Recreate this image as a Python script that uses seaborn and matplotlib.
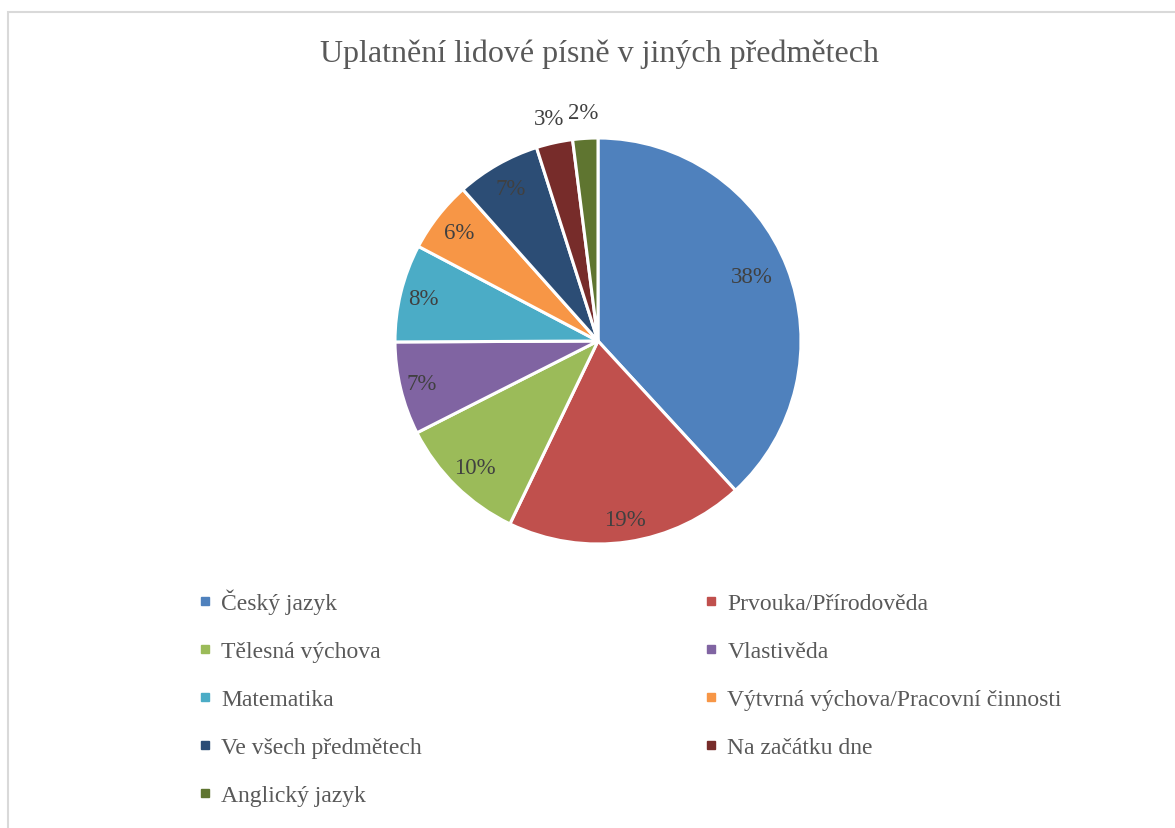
import matplotlib
matplotlib.use("Agg")
import matplotlib.pyplot as plt
from matplotlib.lines import Line2D
from matplotlib.patches import Rectangle
import numpy as np
import seaborn as sns

# data (share of answers, %)
subjects = ['Český jazyk', 'Prvouka/Přírodověda', 'Tělesná výchova', 'Vlastivěda',
            'Matematika', 'Výtvrná výchova/Pracovní činnosti', 'Ve všech předmětech',
            'Na začátku dne', 'Anglický jazyk']
shares = [38.2, 19.0, 10.4, 7.4, 7.8, 5.7, 6.7, 2.9, 2.0]
colors = ['#4F81BD', '#C0504D', '#9BBB59', '#8064A2', '#4BACC6',
          '#F79646', '#2C4D75', '#772C2A', '#5F7530']
title = 'Uplatnění lidové písně v jiných předmětech'

sns.set_theme(style='white')
plt.rcParams['font.family'] = ['Liberation Serif', 'DejaVu Serif']
text_col = '#595959'
palette = sns.color_palette(colors)

W, H = 1175, 829
fig = plt.figure(figsize=(W / 100, H / 100), dpi=100)

# chart area frame (only left/top visible in the original crop)
fig.patches.append(Rectangle((8 / W, -0.1), 1.2, (H - 13) / H + 0.1, transform=fig.transFigure,
                             fill=False, edgecolor='#D9D9D9', linewidth=1.5))

cx, cy, r = 598, 342, 203
ax = fig.add_axes([(cx - r) / W, (H - cy - r) / H, 2 * r / W, 2 * r / H])
wedges, _, autotexts = ax.pie(shares, colors=palette, startangle=90, counterclock=False,
                              autopct='%1.0f%%', pctdistance=0.87,
                              wedgeprops=dict(edgecolor='white', linewidth=2.2),
                              textprops=dict(color='#404040', fontsize=16.5))
ax.set_xlim(-1, 1)
ax.set_ylim(-1, 1)
ax.set_aspect('equal')
ax.axis('off')

# label distances / angle nudges as Excel's "best fit" placed them
label_dist = [0.82, 0.89, 0.87, 0.895, 0.885, 0.866, 0.865, 1.12, 1.13]
label_turn = [1.4, 0, 0, 0, 0, 0, 0, 0, 0]
for w, t, d, k in zip(wedges, autotexts, label_dist, label_turn):
    ang = np.deg2rad((w.theta1 + w.theta2) / 2 + k)
    t.set_position((d * np.cos(ang), d * np.sin(ang)))
    t.set_clip_on(False)

fig.text(599 / W, (H - 54) / H, title, ha='center', va='center', fontsize=23, color=text_col)

# legend, filled row by row in two columns
order = [0, 2, 4, 6, 8, 1, 3, 5, 7]
handles = [Line2D([], [], marker='s', linestyle='none', markersize=6,
                  markerfacecolor=colors[i], markeredgecolor=colors[i]) for i in order]
labels = [subjects[i] for i in order]
fig.legend(handles, labels, ncol=2, loc='upper left',
           bbox_to_anchor=(186 / W, (H - 578) / H), frameon=False,
           fontsize=17, labelcolor=text_col, handlelength=0.6, handletextpad=0.4,
           columnspacing=11.93, labelspacing=1.12, borderpad=0)

fig.savefig('out.png', dpi=100, facecolor='white')
